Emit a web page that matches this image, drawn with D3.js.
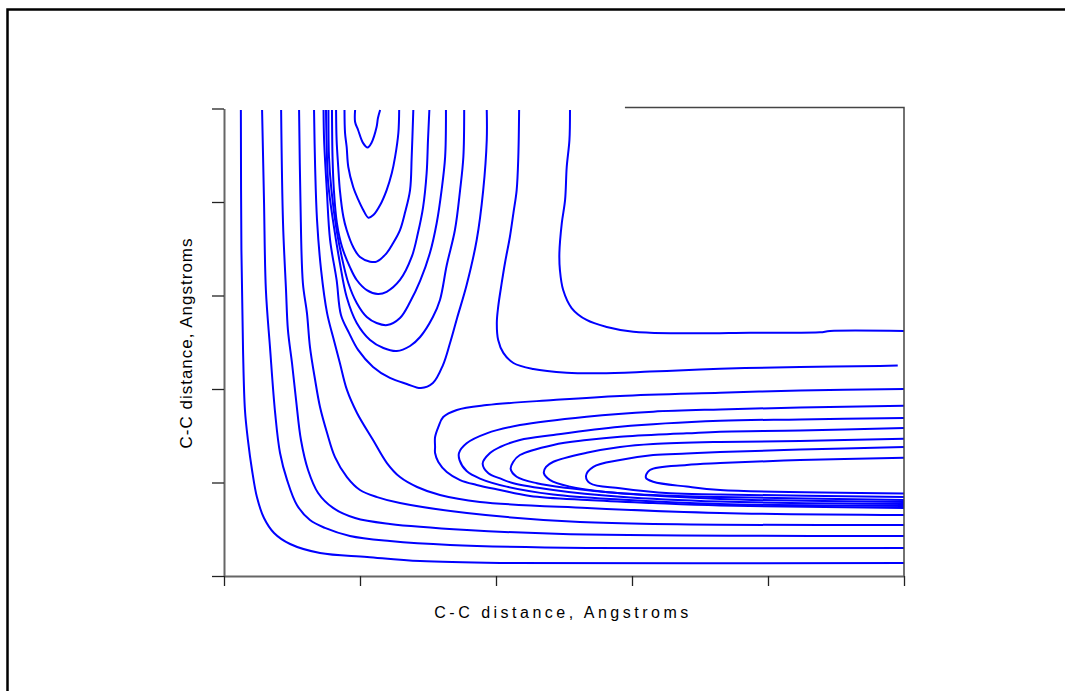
<!DOCTYPE html>
<html>
<meta charset="utf-8">
<style>
body { margin: 0; background: #fff; }
.contour { fill: none; stroke: #0000ff; stroke-width: 2px; stroke-linejoin: round; }
.axis .domain { stroke: #666; stroke-width: 2px; }
.axis .tick line { stroke: #222; stroke-width: 1.3px; }
.label { font-family: Arial, 'Liberation Sans', sans-serif; font-size: 16px; fill: #000; }
</style>
<body>
<svg width="1065" height="691"></svg>
<script src="https://d3js.org/d3.v7.min.js"></script>
<script>

// tick positions on both axes (the chart shows no tick labels)
var xTicks = [1.0, 1.5, 2.0, 2.5, 3.0, 3.5],
    yTicks = [1.0, 1.5, 2.0, 2.5, 3.0, 3.5];

// contour lines, points are [x, y] C-C distances in Angstroms
// L-shaped lines along the corner (outermost first)
var wall1 = [[1.062,3.492],[1.064,2.743],[1.070,2.209],[1.077,1.888],[1.088,1.727],[1.103,1.567],[1.121,1.422],[1.147,1.310],[1.184,1.230],[1.243,1.171],[1.353,1.123],[1.526,1.102],[1.721,1.080],[2.015,1.070],[3.5,1.070]];
var wall2 = [[1.140,3.492],[1.147,3.011],[1.154,2.529],[1.169,2.225],[1.188,1.872],[1.206,1.658],[1.232,1.513],[1.268,1.380],[1.316,1.299],[1.371,1.257],[1.463,1.214],[1.610,1.187],[1.831,1.166],[2.335,1.150],[3.5,1.150]];
var wall3 = [[1.210,3.492],[1.217,2.888],[1.228,2.529],[1.235,2.316],[1.250,2.139],[1.265,1.941],[1.283,1.727],[1.309,1.567],[1.346,1.444],[1.401,1.364],[1.482,1.310],[1.610,1.278],[1.893,1.246],[2.246,1.225],[3.5,1.214]];
var wall4 = [[1.276,3.492],[1.281,3.011],[1.290,2.567],[1.305,2.406],[1.316,2.225],[1.335,2.048],[1.353,1.904],[1.379,1.765],[1.408,1.636],[1.452,1.529],[1.500,1.460],[1.563,1.422],[1.647,1.390],[1.893,1.337],[2.309,1.289],[3.5,1.273]];
var wall5 = [[1.331,3.492],[1.335,3.187],[1.342,2.904],[1.357,2.636],[1.379,2.406],[1.401,2.278],[1.426,2.139],[1.452,1.995],[1.489,1.872],[1.548,1.727],[1.599,1.604],[1.647,1.529],[1.710,1.476],[1.794,1.433],[1.941,1.396],[2.335,1.364],[2.824,1.337],[3.5,1.326]];

// U-shaped lines of the upper valley (innermost first)
var valleyA1 = [[1.482,3.492],[1.482,3.428],[1.493,3.385],[1.511,3.316],[1.528,3.291],[1.542,3.316],[1.561,3.401],[1.566,3.449],[1.574,3.492]];
var valleyA2 = [[1.443,3.492],[1.445,3.369],[1.451,3.294],[1.457,3.187],[1.475,3.080],[1.494,3.011],[1.512,2.957],[1.531,2.916],[1.549,2.930],[1.574,2.984],[1.598,3.064],[1.617,3.155],[1.629,3.241],[1.641,3.369],[1.644,3.492]];
var valleyA3 = [[1.412,3.492],[1.414,3.332],[1.420,3.187],[1.426,3.064],[1.439,2.920],[1.451,2.850],[1.475,2.759],[1.500,2.706],[1.537,2.681],[1.561,2.681],[1.598,2.727],[1.622,2.781],[1.647,2.850],[1.665,2.941],[1.684,3.064],[1.690,3.241],[1.696,3.492]];
var valleyA4 = [[1.397,3.492],[1.399,3.241],[1.404,3.064],[1.415,2.888],[1.434,2.759],[1.463,2.652],[1.488,2.583],[1.525,2.529],[1.566,2.508],[1.598,2.520],[1.647,2.583],[1.690,2.706],[1.713,2.834],[1.732,2.973],[1.745,3.155],[1.750,3.332],[1.755,3.492]];
var valleyA5 = [[1.384,3.492],[1.386,3.241],[1.395,3.064],[1.414,2.850],[1.433,2.706],[1.457,2.567],[1.488,2.460],[1.525,2.385],[1.561,2.353],[1.600,2.342],[1.647,2.380],[1.684,2.465],[1.721,2.578],[1.757,2.727],[1.782,2.888],[1.800,3.064],[1.813,3.241],[1.816,3.492]];
var valleyA6 = [[1.375,3.492],[1.377,3.332],[1.383,3.102],[1.402,2.888],[1.426,2.674],[1.451,2.492],[1.488,2.353],[1.537,2.262],[1.586,2.219],[1.635,2.203],[1.684,2.230],[1.721,2.278],[1.768,2.385],[1.794,2.476],[1.819,2.663],[1.849,2.850],[1.868,3.064],[1.880,3.241],[1.883,3.492]];
var valleyA7 = [[1.366,3.492],[1.368,3.332],[1.378,3.064],[1.390,2.797],[1.414,2.583],[1.430,2.396],[1.460,2.299],[1.493,2.209],[1.548,2.118],[1.610,2.059],[1.672,2.027],[1.724,2.005],[1.768,2.032],[1.805,2.128],[1.831,2.246],[1.857,2.380],[1.892,2.556],[1.929,2.797],[1.953,3.064],[1.966,3.332],[1.966,3.492]];

// lines around the plateau, upper right
var plateau1 = [[2.085,3.492],[2.082,3.241],[2.076,3.064],[2.064,2.941],[2.051,2.813],[2.033,2.674],[2.021,2.567],[2.008,2.439],[2.003,2.353],[2.008,2.262],[2.027,2.193],[2.064,2.139],[2.137,2.107],[2.260,2.087],[2.382,2.084],[2.566,2.093],[2.750,2.104],[2.915,2.112],[3.118,2.118],[3.412,2.123],[3.477,2.126]];
var plateau2 = [[2.272,3.492],[2.270,3.332],[2.260,3.187],[2.254,3.011],[2.242,2.888],[2.233,2.727],[2.235,2.636],[2.247,2.529],[2.278,2.433],[2.333,2.369],[2.407,2.332],[2.505,2.306],[2.566,2.301],[2.750,2.298],[2.934,2.301],[3.191,2.303],[3.228,2.310],[3.5,2.310]];

// C-shaped lines of the lower valley (outermost first)
var valleyB7 = [[3.5,2.000],[3.118,1.992],[2.824,1.980],[2.456,1.963],[2.211,1.941],[1.966,1.914],[1.856,1.888],[1.806,1.850],[1.788,1.797],[1.776,1.743],[1.776,1.690],[1.776,1.658],[1.788,1.610],[1.819,1.556],[1.868,1.513],[1.929,1.487],[2.015,1.460],[2.125,1.428],[2.335,1.406],[2.577,1.390],[2.824,1.377],[3.5,1.364]];
var valleyB6 = [[3.5,1.911],[3.118,1.901],[2.824,1.891],[2.578,1.879],[2.333,1.852],[2.088,1.807],[1.966,1.763],[1.892,1.710],[1.864,1.658],[1.866,1.620],[1.892,1.561],[1.941,1.521],[2.039,1.478],[2.210,1.436],[2.456,1.409],[2.824,1.385],[3.5,1.374]];
var valleyB5 = [[3.5,1.845],[3.118,1.837],[2.824,1.830],[2.456,1.798],[2.211,1.754],[2.088,1.727],[2.015,1.690],[1.978,1.658],[1.951,1.602],[1.972,1.549],[2.015,1.522],[2.064,1.496],[2.211,1.460],[2.456,1.424],[2.824,1.398],[3.5,1.385]];
var valleyB4 = [[3.5,1.791],[3.118,1.778],[2.824,1.772],[2.701,1.763],[2.456,1.745],[2.333,1.727],[2.211,1.701],[2.088,1.647],[2.063,1.610],[2.054,1.572],[2.076,1.531],[2.150,1.496],[2.272,1.469],[2.456,1.442],[2.824,1.412],[3.5,1.396]];
var valleyB3 = [[3.5,1.734],[3.118,1.722],[2.824,1.717],[2.578,1.706],[2.456,1.690],[2.333,1.659],[2.211,1.611],[2.184,1.583],[2.176,1.551],[2.199,1.513],[2.272,1.478],[2.395,1.451],[2.578,1.433],[2.824,1.422],[3.5,1.406]];
var valleyB2 = [[3.5,1.690],[3.118,1.676],[2.824,1.663],[2.701,1.655],[2.578,1.647],[2.456,1.620],[2.358,1.584],[2.331,1.536],[2.346,1.496],[2.456,1.469],[2.640,1.442],[2.824,1.436],[3.5,1.422]];
var valleyB1 = [[3.5,1.633],[3.118,1.620],[2.824,1.604],[2.701,1.594],[2.566,1.567],[2.551,1.526],[2.578,1.504],[2.701,1.478],[2.824,1.460],[3.5,1.441]];

var contours = [wall1, wall2, wall3, wall4, wall5,
    valleyA1, valleyA2, valleyA3, valleyA4, valleyA5, valleyA6, valleyA7,
    plateau1, plateau2,
    valleyB7, valleyB6, valleyB5, valleyB4, valleyB3, valleyB2, valleyB1];

var svg = d3.select("svg");

var x = d3.scaleLinear().domain([1.0, 3.5]).range([224, 904]),
    y = d3.scaleLinear().domain([1.0, 3.5]).range([576, 108.5]);

// page frame (runs off the right and bottom edges)
svg.append("path")
    .attr("d", "M7.5,691V9.5H1065")
    .attr("fill", "none")
    .attr("stroke", "#000")
    .attr("stroke-width", 2.5);

var line = d3.line()
    .x(function(d) { return x(d[0]); })
    .y(function(d) { return y(d[1]); })
    .curve(d3.curveCatmullRom.alpha(0.5));

svg.append("g")
    .selectAll("path")
    .data(contours)
    .enter().append("path")
    .attr("class", "contour")
    .attr("d", line);

// partial frame on top and right side of the plot
svg.append("path")
    .attr("d", "M" + x(2.474) + "," + (y(3.5) - 1) + "H" + x(3.5) + "V" + y(1.0))
    .attr("fill", "none")
    .attr("stroke", "#444")
    .attr("stroke-width", 1.5);

svg.append("g")
    .attr("class", "axis")
    .attr("transform", "translate(" + x(1.0) + ",0)")
    .call(d3.axisLeft(y).tickValues(yTicks).tickSize(12).tickSizeOuter(0).tickFormat(""));

svg.append("g")
    .attr("class", "axis")
    .attr("transform", "translate(0," + y(1.0) + ")")
    .call(d3.axisBottom(x).tickValues(xTicks).tickSize(10).tickSizeOuter(0).tickFormat(""));

svg.append("text")
    .attr("class", "label")
    .attr("x", 563)
    .attr("y", 618)
    .attr("text-anchor", "middle")
    .style("letter-spacing", "3.5px")
    .text("C-C distance, Angstroms");

svg.append("text")
    .attr("class", "label")
    .attr("transform", "translate(192,343) rotate(-90)")
    .attr("text-anchor", "middle")
    .style("font-size", "17px")
    .style("letter-spacing", "1px")
    .text("C-C distance, Angstroms");

</script>
</body>
</html>
